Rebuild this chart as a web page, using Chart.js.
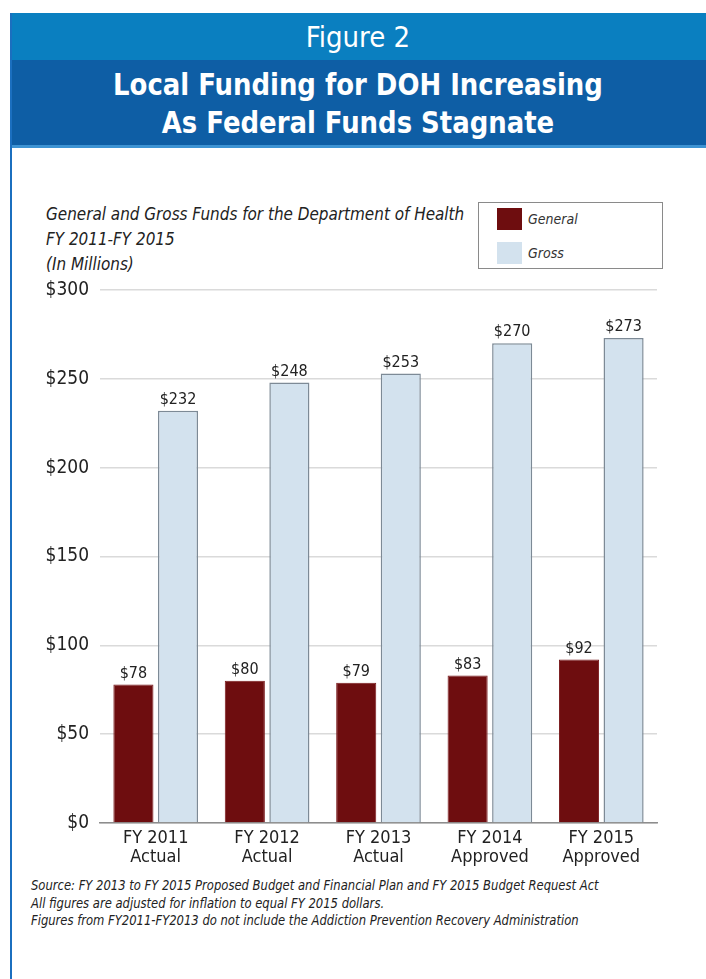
<!DOCTYPE html>
<html>
<head>
<meta charset="utf-8">
<script src="https://cdn.jsdelivr.net/npm/chart.js@4.4.1/dist/chart.umd.min.js"></script>
<style>
  html, body { margin: 0; padding: 0; background: #ffffff; }
  body { width: 706px; height: 979px; position: relative; overflow: hidden;
         font-family: "Liberation Sans Narrow", "DejaVu Sans Condensed", "Liberation Sans", sans-serif; }
  #card-border { position: absolute; left: 10px; top: 13px; width: 2px; height: 966px; background: #1b6fbf; }
  #band-top { position: absolute; left: 10px; top: 13px; width: 696px; height: 47px; background: #0a7fc0;
              color: #fff; text-align: center; font-size: 29px; line-height: 48px; }
  #band-main { position: absolute; left: 10px; top: 60px; width: 696px; height: 85px; background: #0e5ea5; }
  #band-main div { color: #fff; text-align: center; font-size: 31px; font-weight: bold; line-height: 38px;
                   padding-top: 5px; transform: scaleX(0.93); transform-origin: 50% 50%; }
  #band-line { position: absolute; left: 10px; top: 145px; width: 696px; height: 3px; background: #3d93d3; }
  #subtitle { position: absolute; left: 46px; top: 201px; font-style: italic; font-size: 18px;
              line-height: 25px; color: #222; transform: scaleX(0.94); transform-origin: 0 0; white-space: nowrap; }
  #legend { position: absolute; left: 478px; top: 202px; width: 185px; height: 67px; box-sizing: border-box;
            border: 1.5px solid #8a8a8a; }
  .lg-row { position: absolute; left: 18px; height: 22px; }
  .lg-sw { position: absolute; left: 0; top: 0; width: 25px; height: 22px; }
  .lg-tx { position: absolute; left: 31px; top: 0; line-height: 22px; font-style: italic; font-size: 14px; color: #333; white-space: nowrap; }
  #notes { position: absolute; left: 31px; top: 877px; font-style: italic; font-size: 14px; line-height: 17.5px; color: #222;
           transform: scaleX(0.92); transform-origin: 0 0; white-space: nowrap; }
  canvas { position: absolute; left: 0; top: 0; }
</style>
</head>
<body>
<div id="band-top">Figure 2</div>
<div id="band-main"><div>Local Funding for DOH Increasing<br>As Federal Funds Stagnate</div></div>
<div id="band-line"></div>
<div id="card-border"></div>
<div id="subtitle">General and Gross Funds for the Department of Health<br>FY 2011-FY 2015<br>(In Millions)</div>
<div id="legend"></div>
<div id="notes">Source: FY 2013 to FY 2015 Proposed Budget and Financial Plan and FY 2015 Budget Request Act<br>All figures are adjusted for inflation to equal FY 2015 dollars.<br>Figures from FY2011-FY2013 do not include the Addiction Prevention Recovery Administration</div>
<canvas id="chart" width="706" height="979"></canvas>
<script>
// Fiscal years (two-line axis labels)
const categories = [
  ["FY 2011", "Actual"],
  ["FY 2012", "Actual"],
  ["FY 2013", "Actual"],
  ["FY 2014", "Approved"],
  ["FY 2015", "Approved"]
];
// Funds in millions of FY 2015 dollars
const generalFunds = [78, 80, 79, 83, 92];
const grossFunds = [232, 248, 253, 270, 273];
const seriesNames = ["General", "Gross"];
const yTicks = [0, 50, 100, 150, 200, 250, 300];

const FONT = '"Liberation Sans Narrow", "DejaVu Sans Condensed", "Liberation Sans", sans-serif';

const datasets = [
  { label: seriesNames[0], data: generalFunds, backgroundColor: "#6e0d0f", borderColor: "#7a1a1c", borderWidth: 1 },
  { label: seriesNames[1], data: grossFunds, backgroundColor: "#d3e2ee", borderColor: "#7d8a96", borderWidth: 1.5 }
];

// Legend box built from the dataset styles
const legendEl = document.getElementById("legend");
datasets.forEach((ds, i) => {
  const row = document.createElement("div");
  row.className = "lg-row";
  row.style.top = (i === 0 ? 5 : 39) + "px";
  const sw = document.createElement("div");
  sw.className = "lg-sw";
  sw.style.background = ds.backgroundColor;
  const tx = document.createElement("div");
  tx.className = "lg-tx";
  tx.textContent = ds.label;
  row.appendChild(sw);
  row.appendChild(tx);
  legendEl.appendChild(row);
});

// Dollar value written above each bar
const valueLabels = {
  id: "valueLabels",
  afterDatasetsDraw(chart) {
    const ctx = chart.ctx;
    ctx.save();
    ctx.font = "16px " + FONT;
    ctx.fillStyle = "#222";
    ctx.textAlign = "center";
    ctx.textBaseline = "bottom";
    chart.data.datasets.forEach((ds, di) => {
      chart.getDatasetMeta(di).data.forEach((bar, i) => {
        ctx.fillText("$" + ds.data[i], bar.x, bar.y - 3);
      });
    });
    ctx.restore();
  }
};

new Chart(document.getElementById("chart"), {
  type: "bar",
  data: { labels: categories, datasets: datasets },
  options: {
    responsive: false,
    animation: false,
    layout: { padding: { left: 30, right: 49, top: 290, bottom: 96 } },
    plugins: { legend: { display: false }, tooltip: { enabled: false }, title: { display: false } },
    datasets: { bar: { categoryPercentage: 0.8, barPercentage: 0.9 } },
    scales: {
      x: {
        grid: { display: false, drawTicks: false },
        border: { display: true, color: "#8d8d8d", width: 1.5 },
        ticks: { color: "#222", font: { family: FONT, size: 18, lineHeight: 1.1 }, padding: 5, maxRotation: 0, autoSkip: false },
        afterFit(scale) { scale.height = 60; }
      },
      y: {
        min: 0, max: 300,
        afterBuildTicks(scale) { scale.ticks = yTicks.map(v => ({ value: v })); },
        grid: { color: "#dadada", lineWidth: 1.5, drawTicks: false },
        border: { display: false },
        ticks: { color: "#222", font: { family: FONT, size: 19 }, padding: 11, callback: v => "$" + v },
        afterFit(scale) { scale.width = 70; }
      }
    }
  },
  plugins: [valueLabels]
});
</script>
</body>
</html>
